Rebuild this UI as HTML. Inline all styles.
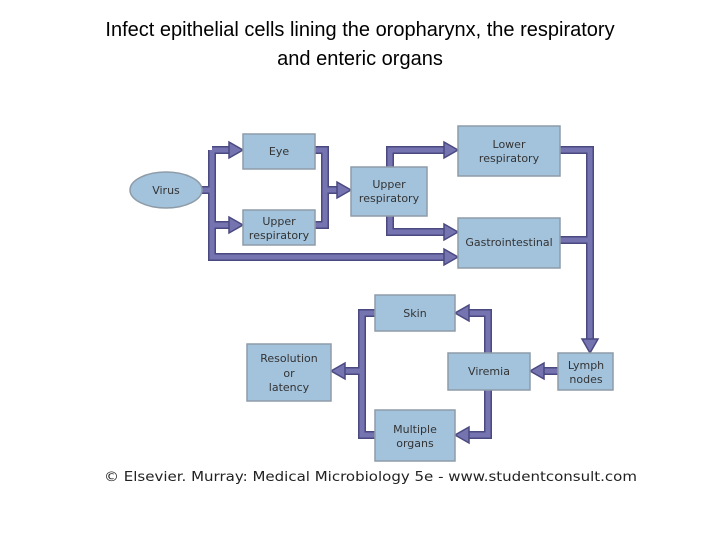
<!DOCTYPE html>
<html><head><meta charset="utf-8"><style>
body{margin:0;background:#fff;width:720px;height:540px;overflow:hidden;}
</style></head><body>
<svg width="720" height="540" xmlns="http://www.w3.org/2000/svg" style="position:absolute;left:0;top:0">
<text x="360" y="36" font-family="Liberation Sans, sans-serif" font-size="20" text-anchor="middle" fill="#000">Infect epithelial cells lining the oropharynx, the respiratory</text>
<text x="360" y="65" font-family="Liberation Sans, sans-serif" font-size="20" text-anchor="middle" fill="#000">and enteric organs</text>

<g fill="none" stroke-linejoin="miter" stroke-linecap="butt">
<g stroke="#4a4980" stroke-width="8">
<path d="M200 190 H212 M212 150 V257 H446 M212 150 H231 M212 225 H231 M315 150 H325 V225 H315 M325 190 H339 M390 167 V150 H446 M390 216 V232 H446 M560 150 H590 V341 M560 240 H590 M558 371 H542 M488 353 V313 H467 M488 390 V435 H467 M375 313 H362 V435 H375 M362 371 H343"/>
</g>
<g stroke="#7574b0" stroke-width="5">
<path d="M200 190 H212 M212 150 V257 H446 M212 150 H231 M212 225 H231 M315 150 H325 V225 H315 M325 190 H339 M390 167 V150 H446 M390 216 V232 H446 M560 150 H590 V341 M560 240 H590 M558 371 H542 M488 353 V313 H467 M488 390 V435 H467 M375 313 H362 V435 H375 M362 371 H343"/>
</g>
</g>
<g fill="#7574b0" stroke="#4a4980" stroke-width="1.5">
<polygon points="229,142 243,150 229,158"/>
<polygon points="229,217 243,225 229,233"/>
<polygon points="337,182 351,190 337,198"/>
<polygon points="444,142 458,150 444,158"/>
<polygon points="444,224 458,232 444,240"/>
<polygon points="444,249 458,257 444,265"/>
<polygon points="582,339 598,339 590,353"/>
<polygon points="544,363 530,371 544,379"/>
<polygon points="469,305 455,313 469,321"/>
<polygon points="469,427 455,435 469,443"/>
<polygon points="345,363 331,371 345,379"/>
</g>

<g fill="#a3c3dd" stroke="#8e9ca8" stroke-width="1.5">
<ellipse cx="166" cy="190" rx="36" ry="18"/>
<rect x="243" y="134" width="72" height="35"/>
<rect x="243" y="210" width="72" height="35"/>
<rect x="351" y="167" width="76" height="49"/>
<rect x="458" y="126" width="102" height="50"/>
<rect x="458" y="218" width="102" height="50"/>
<rect x="375" y="295" width="80" height="36"/>
<rect x="247" y="344" width="84" height="57"/>
<rect x="448" y="353" width="82" height="37"/>
<rect x="558" y="353" width="55" height="37"/>
<rect x="375" y="410" width="80" height="51"/>
</g>
<g font-family="DejaVu Sans, Liberation Sans, sans-serif" font-size="11" fill="#333" text-anchor="middle">
<text x="166" y="194">Virus</text>
<text x="279" y="155">Eye</text>
<text x="279" y="225">Upper</text>
<text x="279" y="239">respiratory</text>
<text x="389" y="188">Upper</text>
<text x="389" y="202">respiratory</text>
<text x="509" y="148">Lower</text>
<text x="509" y="162">respiratory</text>
<text x="509" y="246">Gastrointestinal</text>
<text x="415" y="317">Skin</text>
<text x="289" y="362">Resolution</text>
<text x="289" y="377">or</text>
<text x="289" y="391">latency</text>
<text x="489" y="375">Viremia</text>
<text x="586" y="369">Lymph</text>
<text x="586" y="383">nodes</text>
<text x="415" y="433">Multiple</text>
<text x="415" y="447">organs</text>
</g>
<text x="104" y="481" font-family="DejaVu Sans, sans-serif" font-size="13" textLength="533" lengthAdjust="spacingAndGlyphs" fill="#222">© Elsevier. Murray: Medical Microbiology 5e - www.studentconsult.com</text>
</svg>
</body></html>
